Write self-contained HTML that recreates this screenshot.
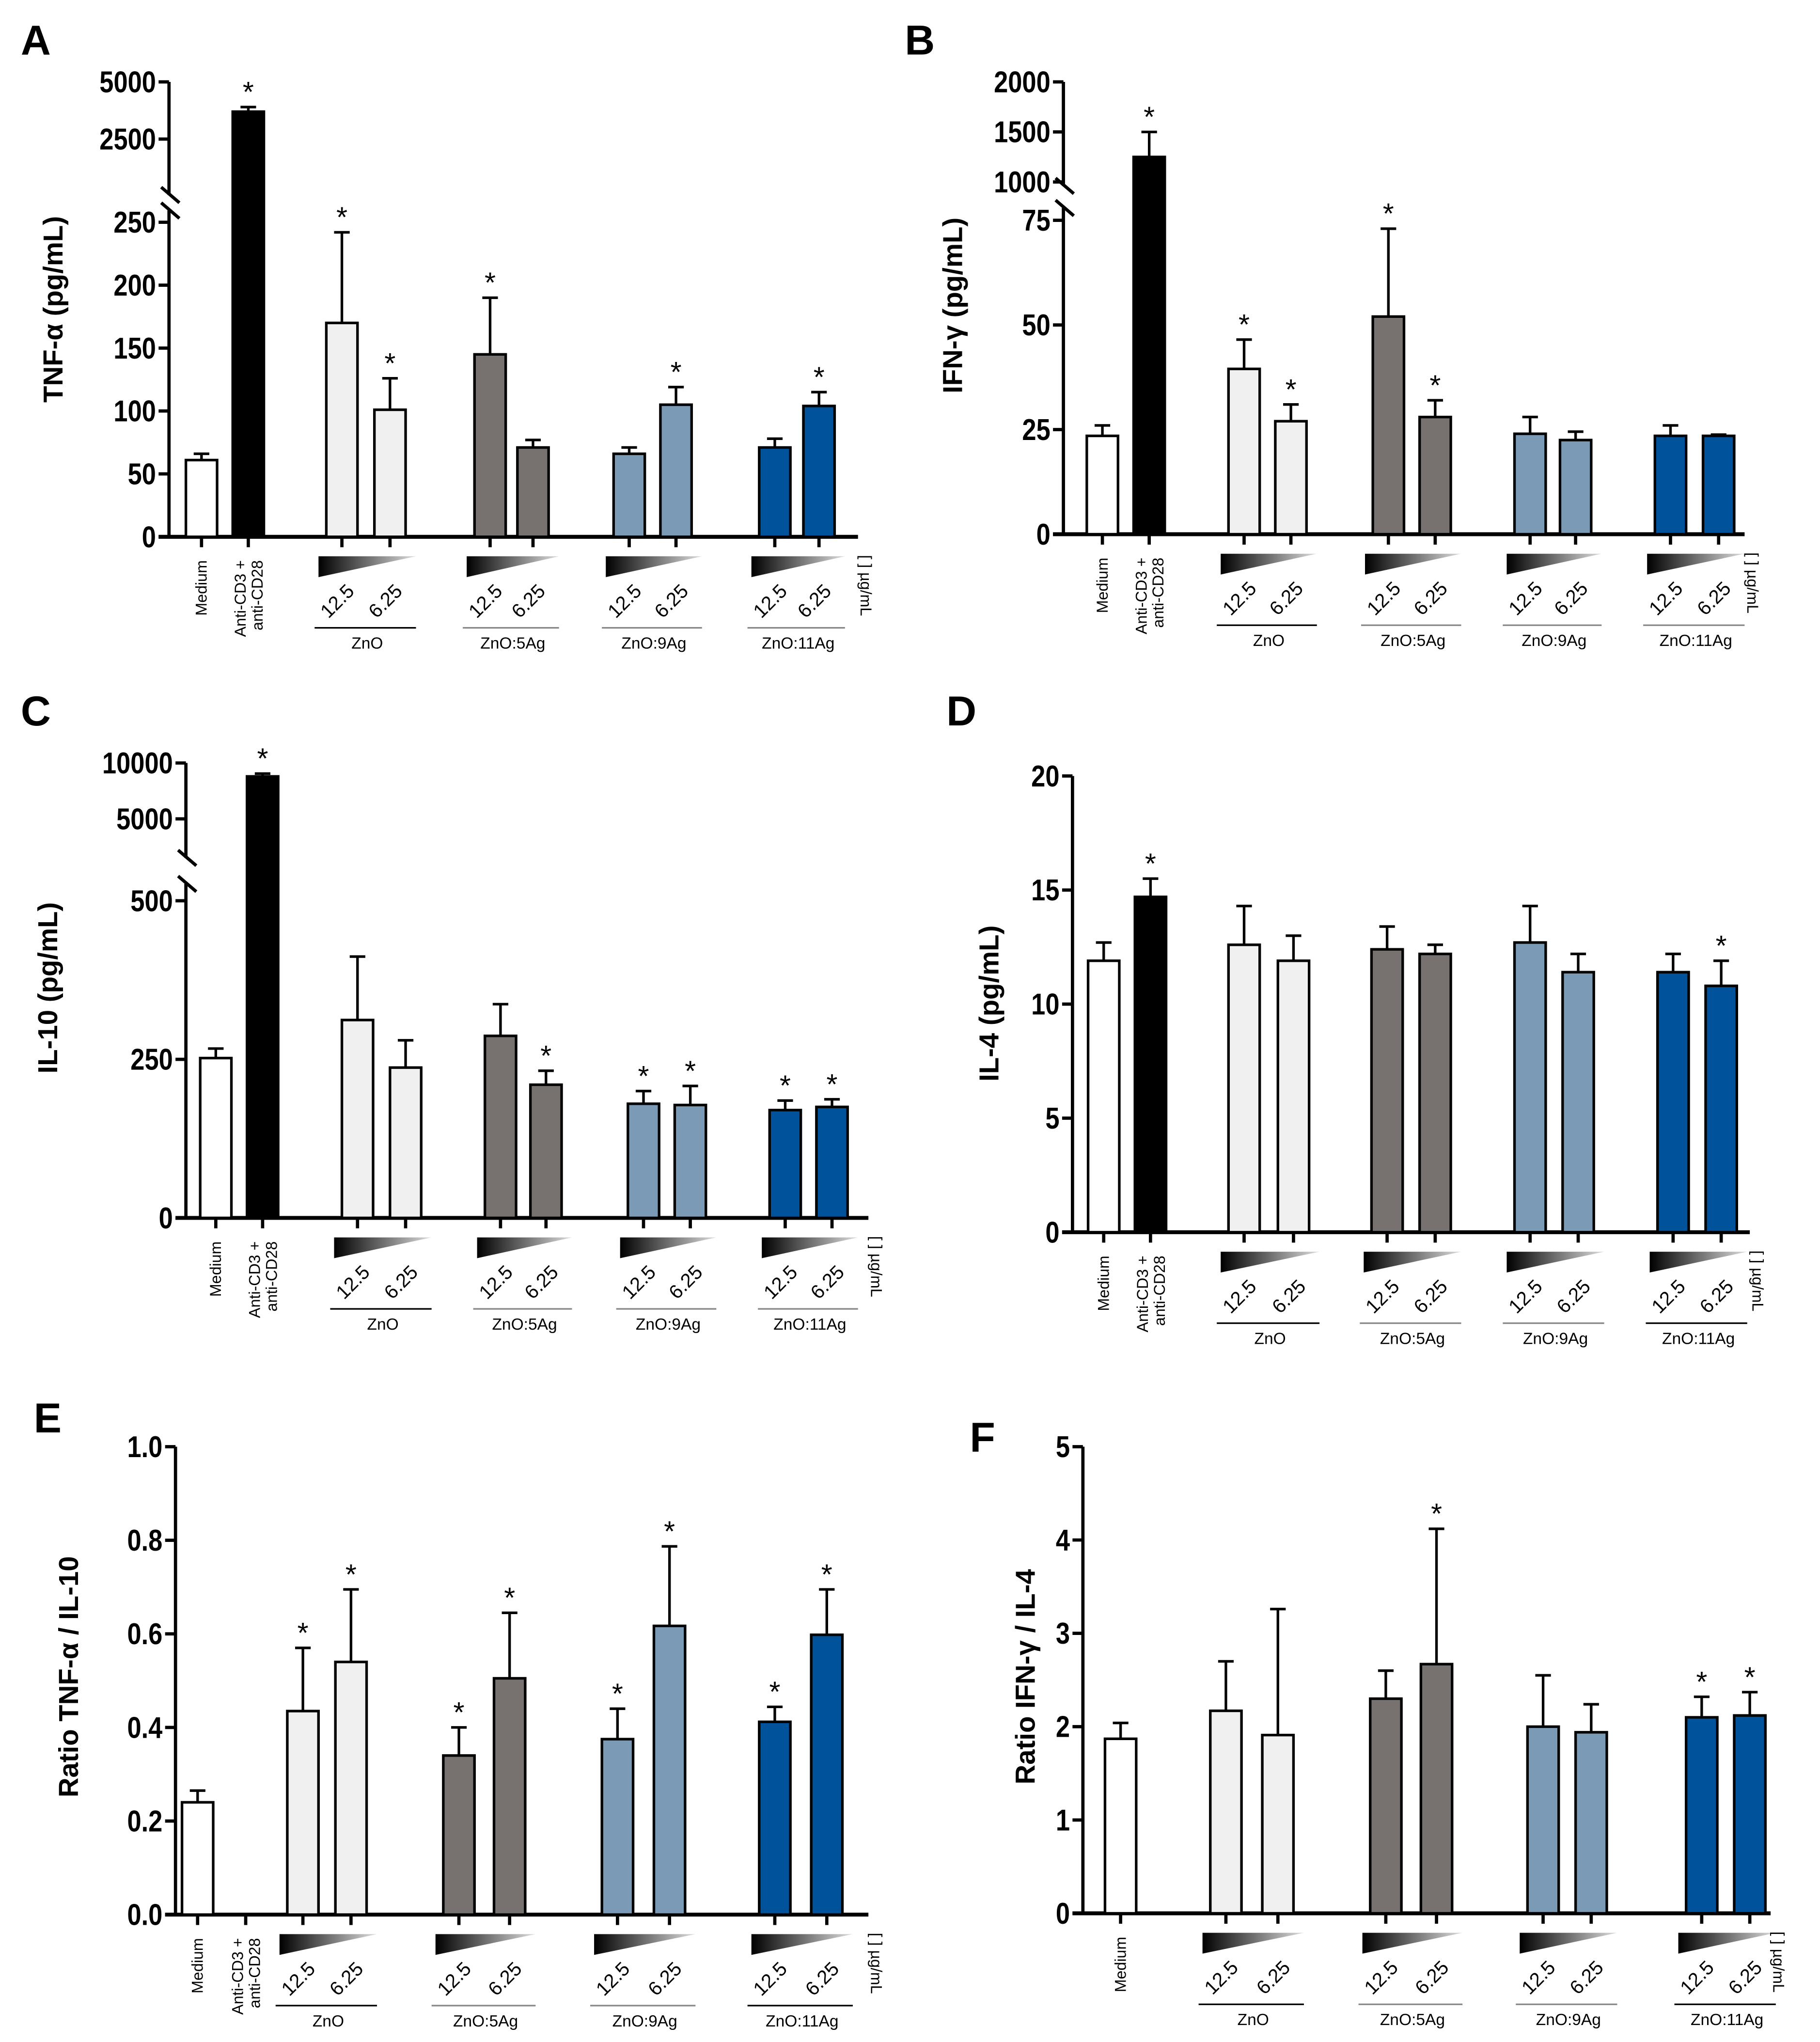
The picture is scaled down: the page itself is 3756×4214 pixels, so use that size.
<!DOCTYPE html>
<html><head><meta charset="utf-8"><style>
html,body{margin:0;padding:0;background:#fff;}
svg{display:block;}
text{font-family:"Liberation Sans",sans-serif;}
</style></head><body>
<svg id="fig" xmlns="http://www.w3.org/2000/svg" width="3756" height="4214" viewBox="0 0 1400 1571" preserveAspectRatio="none">
<defs><linearGradient id="tri" x1="0" x2="1" y1="0" y2="0"><stop offset="0" stop-color="#000"/><stop offset="1" stop-color="#ddd"/></linearGradient></defs>
</svg>
<script>
const groupNames = ["ZnO","ZnO:5Ag","ZnO:9Ag","ZnO:11Ag"];
const barColors = ["#ffffff","#000000","#f0f0f0","#f0f0f0","#77716f","#77716f","#7a9ab6","#7a9ab6","#00529b","#00529b"];
// Panel A TNF-alpha
const valsA = [61,3700,170,101,145,71,66,105,71,104];
const errA  = [5,200,72,25,45,6,5,14,7,11];
const starA = [0,1,1,1,1,0,0,1,0,1];
const ticksA = [0,50,100,150,200,250,2500,5000];
// Panel B IFN-gamma
const valsB = [23.5,1250,39.5,27,52,28,24,22.5,23.5,23.5];
const errB  = [2.5,250,7,4,21,4,4,2,2.5,0.3];
const starB = [0,1,1,1,1,1,0,0,0,0];
const ticksB = [0,25,50,75,1000,1500,2000];
// Panel C IL-10
const valsC = [252,8800,312,237,287,210,180,178,170,175];
const errC  = [15,250,100,43,50,22,20,30,15,12];
const starC = [0,1,0,0,0,1,1,1,1,1];
const ticksC = [0,250,500,5000,10000];
// Panel D IL-4
const valsD = [11.9,14.7,12.6,11.9,12.4,12.2,12.7,11.4,11.4,10.8];
const errD  = [0.8,0.8,1.7,1.1,1.0,0.4,1.6,0.8,0.8,1.1];
const starD = [0,1,0,0,0,0,0,0,0,1];
const ticksD = [0,5,10,15,20];
// Panel E ratio TNF/IL-10
const valsE = [0.24,null,0.435,0.54,0.34,0.505,0.375,0.617,0.412,0.598];
const errE  = [0.025,0,0.135,0.155,0.06,0.14,0.065,0.17,0.032,0.097];
const starE = [0,0,1,1,1,1,1,1,1,1];
const ticksE = [0,0.2,0.4,0.6,0.8,1.0];
const tickLabelsE = ["0.0","0.2","0.4","0.6","0.8","1.0"];
// Panel F ratio IFN/IL-4
const valsF = [1.87,null,2.17,1.91,2.3,2.67,2.0,1.94,2.1,2.12];
const errF  = [0.17,0,0.53,1.35,0.3,1.45,0.55,0.3,0.22,0.25];
const starF = [0,0,0,0,0,1,0,0,1,1];
const ticksF = [0,1,2,3,4,5];

const svg = document.getElementById('fig');
const NS = "http://www.w3.org/2000/svg";
function mk(tag, attrs, parent){const e=document.createElementNS(NS,tag);for(const k in attrs)e.setAttribute(k,attrs[k]);(parent||svg).appendChild(e);return e;}

function panel(p){
  const g = mk('g',{});
  
  
  function y(v){
    if(p.upper && v > p.lowMax*1.05){
      const u=p.upper; return u.y1 + (v-u.v1)*(u.y2-u.y1)/(u.v2-u.v1);
    }
    return p.y0 - v*p.ppu;
  }
  const L = mk('text',{x:p.lx,y:p.ly,'font-size':32,'font-weight':'bold'},g); L.textContent=p.id;
  
  
  const topY = y(p.ticks[p.ticks.length-1]);
  if(p.brk){
    mk('line',{x1:p.ax,x2:p.ax,y1:p.y0,y2:p.brk[1],stroke:'#000','stroke-width':2.5},g);
    mk('line',{x1:p.ax,x2:p.ax,y1:p.brk[0],y2:topY,stroke:'#000','stroke-width':2.5},g);
    mk('line',{x1:p.ax-6,x2:p.ax+8,y1:p.brk[0]-6,y2:p.brk[0]+6,stroke:'#000','stroke-width':2.5},g);
    mk('line',{x1:p.ax-6,x2:p.ax+8,y1:p.brk[1]-6,y2:p.brk[1]+6,stroke:'#000','stroke-width':2.5},g);
  } else {
    mk('line',{x1:p.ax,x2:p.ax,y1:p.y0,y2:topY,stroke:'#000','stroke-width':2.5},g);
  }
  mk('line',{x1:p.ax-8,x2:p.xend,y1:p.y0,y2:p.y0,stroke:'#000','stroke-width':3},g);
  p.ticks.forEach((t,i)=>{
    const ty=y(t);
    mk('line',{x1:p.ax-8,x2:p.ax,y1:ty,y2:ty,stroke:'#000','stroke-width':2.5},g);
    const tl=mk('text',{x:p.ax-10,y:ty+8,'font-size':23,'font-weight':'bold','text-anchor':'end',transform:`translate(${p.ax-10} 0) scale(0.85 1) translate(${-(p.ax-10)} 0)`},g);
    tl.textContent = p.tickLabels ? p.tickLabels[i] : String(t);
    
    
  });
  const yt=mk('text',{x:0,y:0,'font-size':21,'font-weight':'bold','text-anchor':'middle',transform:`translate(${p.tx} ${p.ty}) rotate(-90)`},g);
  yt.textContent=p.title;
  
  
  const bw=24;
  p.vals.forEach((v,i)=>{
    const c=p.cx[i];
    if(c==null) return;
    mk('line',{x1:c,x2:c,y1:p.y0,y2:p.y0+8,stroke:'#000','stroke-width':2.5},g);
    if(v==null) return;
    const top=y(v), et=y(v+p.err[i]);
    mk('line',{x1:c,x2:c,y1:top,y2:et,stroke:'#000','stroke-width':2},g);
    mk('line',{x1:c-6,x2:c+6,y1:et,y2:et,stroke:'#000','stroke-width':2},g);
    const r=mk('rect',{x:c-bw/2,y:top,width:bw,height:p.y0-top,fill:barColors[i],stroke:'#000','stroke-width':2},g);
    
    
    if(p.star[i]){const s=mk('text',{x:c,y:et-4,'font-size':22,'text-anchor':'middle'},g);s.textContent='*';
      
      }
  });
  const yb=p.y0;
  const m=mk('text',{x:0,y:0,'font-size':12,'text-anchor':'end',transform:`translate(${p.cx[0]+4} ${yb+18}) rotate(-90)`},g); m.textContent='Medium';
  
  
  const ac = p.cx[1]!=null ? p.cx[1] : p.cx[0]+36;
  if(p.showAnti){
    const a=mk('text',{x:0,y:0,'font-size':12,'text-anchor':'end',transform:`translate(${ac-2} ${yb+18}) rotate(-90)`},g);
    a.textContent='Anti-CD3 +';
    
    
    const a2=mk('text',{x:0,y:0,'font-size':12,'text-anchor':'end',transform:`translate(${ac+11} ${yb+18}) rotate(-90)`},g);
    a2.textContent='anti-CD28';
    
    
  }
  for(let k=0;k<4;k++){
    const c1=p.cx[2+2*k], c2=p.cx[3+2*k];
    const Lx=c1-18, Rx=c2+20;
    const t=mk('polygon',{points:`${Lx},${yb+15} ${Rx},${yb+15} ${Lx},${yb+31}`,fill:'url(#tri)'},g);
    
    
    [[c1,'12.5'],[c2,'6.25']].forEach(([cc,s])=>{
      const n=mk('text',{x:0,y:0,'font-size':15,'text-anchor':'middle',transform:`translate(${cc} ${yb+53}) rotate(-45)`},g);n.textContent=s;
      
      
    });
    mk('line',{x1:Lx-3,x2:Rx,y1:yb+70,y2:yb+70,stroke:k==0||(k==3&&p.id!='A'&&p.id!='B'&&p.id!='C')?'#000':'#888','stroke-width':1.2},g);
    const gn=mk('text',{x:(Lx+Rx)/2,y:yb+86,'font-size':12.5,'text-anchor':'middle'},g);gn.textContent=groupNames[k];
    
    
  }
  const u=mk('text',{x:0,y:0,'font-size':12,transform:`translate(${p.xend+2} ${yb+14}) rotate(90)`},g);u.textContent='[ ] µg/mL';
  
  
}

panel({id:'A',lx:16,ly:42,ax:130,y0:413,ppu:242/250,lowMax:250,upper:{v1:2500,y1:107,v2:5000,y2:63},brk:[150,162],
  ticks:ticksA,vals:valsA,err:errA,star:starA,xend:660,tx:48,ty:238,title:'TNF-α  (pg/mL)',
  cx:[155,191,263,300,377,410,484,520,596,630],showAnti:true});
panel({id:'B',lx:696,ly:42,ax:818,y0:411,ppu:80.5/25,lowMax:75,upper:{v1:1000,y1:140,v2:2000,y2:63},brk:[143,160],
  ticks:ticksB,vals:valsB,err:errB,star:starB,xend:1342,tx:740,ty:235,title:'IFN-γ (pg/mL)',
  cx:[848,884,957,993,1068,1104,1177,1212,1285,1322],showAnti:true});
panel({id:'C',lx:16,ly:558,ax:143,y0:937,ppu:122/250,lowMax:500,upper:{v1:5000,y1:630,v2:10000,y2:587},brk:[660,680],
  ticks:ticksC,vals:valsC,err:errC,star:starC,xend:668,tx:44,ty:760,title:'IL-10 (pg/mL)',
  cx:[166,202,275,312,385,420,495,531,604,640],showAnti:true});
panel({id:'D',lx:728,ly:558,ax:825,y0:948,ppu:351/20,lowMax:1e9,
  ticks:ticksD,vals:valsD,err:errD,star:starD,xend:1346,tx:768,ty:772,title:'IL-4 (pg/mL)',
  cx:[849,885,957,995,1067,1104,1177,1214,1287,1324],showAnti:true});
panel({id:'E',lx:26,ly:1102,ax:135,y0:1473,ppu:360,lowMax:1e9,
  ticks:ticksE,tickLabels:tickLabelsE,vals:valsE,err:errE,star:starE,xend:668,tx:60,ty:1290,title:'Ratio TNF-α  / IL-10',
  cx:[152,189,233,270,353,392,475,515,596,636],showAnti:true});
panel({id:'F',lx:746,ly:1117,ax:833,y0:1472,ppu:71.8,lowMax:1e9,
  ticks:ticksF,vals:valsF,err:errF,star:starF,xend:1362,tx:796,ty:1290,title:'Ratio IFN-γ / IL-4',
  cx:[862,null,943,983,1066,1105,1187,1224,1309,1346],showAnti:false});
</script>
</body></html>
